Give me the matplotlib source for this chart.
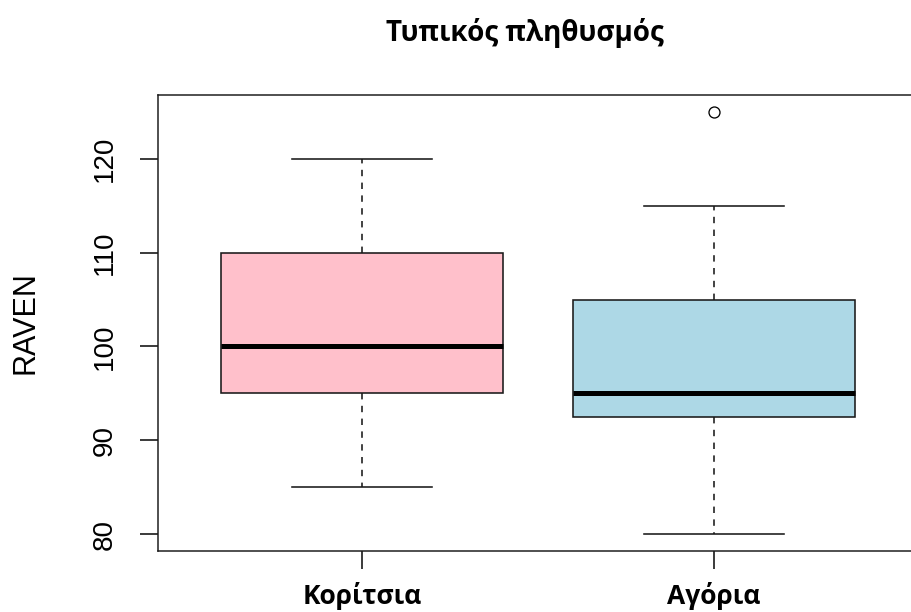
import matplotlib
matplotlib.use("Agg")
import matplotlib.pyplot as plt
from matplotlib.transforms import blended_transform_factory

# Summary statistics per group
groups = ["Κορίτσια", "Αγόρια"]
whisker_low = [85, 80]
q1 = [95, 92.5]
medians = [100, 95]
q3 = [110, 105]
whisker_high = [120, 115]
outliers = [[], [125]]
fills = ["#FFC0CB", "#ADD8E6"]

y_ticks = [80, 90, 100, 110, 120]

W, H = 911, 612
fig = plt.figure(figsize=(W / 100, H / 100), dpi=100)
left, right, top, bottom = 158, 918, 95, 551
ax = fig.add_axes([left / W, (H - bottom) / H, (right - left) / W, (bottom - top) / H])

stats = []
for i, g in enumerate(groups):
    stats.append(dict(label=g, whislo=whisker_low[i], q1=q1[i], med=medians[i],
                      q3=q3[i], whishi=whisker_high[i], fliers=outliers[i]))

px = 72 / 100  # points per pixel
bp = ax.bxp(stats, positions=[1, 2], widths=0.8, patch_artist=True,
            showfliers=True,
            boxprops=dict(linewidth=1.6 * px, edgecolor="#1a1a1a"),
            medianprops=dict(linewidth=5 * px, color="black", solid_capstyle="butt"),
            whiskerprops=dict(linewidth=1.6 * px, color="#1a1a1a", linestyle=(0, (4, 4))),
            capprops=dict(linewidth=1.6 * px, color="#1a1a1a"),
            capwidths=0.4,
            flierprops=dict(marker="o", markersize=11 * px, markerfacecolor="none",
                            markeredgecolor="black", markeredgewidth=1.3 * px))
for patch, c in zip(bp["boxes"], fills):
    patch.set_facecolor(c)

ax.set_xlim(0.42, 2.58)
ax.set_ylim(78.2, 126.8)

for s in ax.spines.values():
    s.set_linewidth(1.5 * px)
    s.set_color("#1a1a1a")

ax.set_yticks(y_ticks)
ax.set_yticklabels([str(v) for v in y_ticks], rotation=90, va="center",
                   family="Liberation Sans", fontsize=20)
ax.tick_params(axis="y", length=18 * px, width=1.5 * px, pad=22 * px)

# Group names sit below the axis on a fixed baseline
ax.set_xticks([1, 2])
ax.set_xticklabels([])
ax.tick_params(axis="x", length=18 * px, width=1.5 * px)
trans = blended_transform_factory(ax.transData, fig.transFigure)
for i, g in enumerate(groups):
    ax.text(i + 1, 1 - 604 / H, g, transform=trans, ha="center", va="baseline",
            family="Open Sans", fontweight="bold", fontsize=19)

fig.text(26 / W, 1 - 323 / H, "RAVEN", rotation=90, ha="center", va="center",
         family="Liberation Sans", fontsize=22)
fig.text(524.5 / W, 1 - 41 / H, "Τυπικός πληθυσμός",
         ha="center", va="baseline", family="Open Sans", fontweight="bold",
         fontsize=20)

fig.savefig("out.png", dpi=100)
